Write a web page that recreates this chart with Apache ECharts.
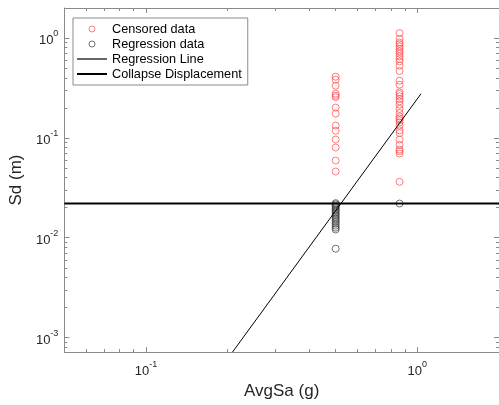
<!DOCTYPE html>
<html>
<head>
<meta charset="utf-8">
<script src="https://cdn.jsdelivr.net/npm/echarts@6/dist/echarts.min.js"></script>
<style>
html,body{margin:0;padding:0;background:#fff;}
#chart{width:499px;height:405px;}
</style>
</head>
<body>
<div id="chart"></div>
<script>
// ---- data ----
const xTicksMajor = [0.1, 1];
const xTicksMinor = [0.05, 0.06, 0.07, 0.08, 0.09, 0.2, 0.3, 0.4, 0.5, 0.6, 0.7, 0.8, 0.9, 2];
const yTicksMajor = [0.001, 0.01, 0.1, 1];
const yTicksMinor = [0.0008, 0.0009, 0.002, 0.003, 0.004, 0.005, 0.006, 0.007, 0.008, 0.009,
  0.02, 0.03, 0.04, 0.05, 0.06, 0.07, 0.08, 0.09, 0.2, 0.3, 0.4, 0.5, 0.6, 0.7, 0.8, 0.9, 2];

const avgSaLow = 0.5;
const avgSaHigh = 0.86;
const censoredSdLow = [0.410, 0.383, 0.333, 0.277, 0.265, 0.256, 0.201, 0.175, 0.133, 0.118, 0.0962, 0.080, 0.0593, 0.0460];
const censoredSdHigh = [1.122, 0.984, 0.904, 0.871, 0.824, 0.776, 0.735, 0.697, 0.655, 0.617, 0.583, 0.528, 0.468,
  0.374, 0.341, 0.286, 0.275, 0.261, 0.245, 0.232, 0.215, 0.195, 0.178, 0.164, 0.157, 0.150, 0.143, 0.133,
  0.119, 0.112, 0.096, 0.0851, 0.0764, 0.0735, 0.0697, 0.0363];
const regressionSdLow = [0.0222, 0.0216, 0.021, 0.0204, 0.0198, 0.0192, 0.0186, 0.018, 0.0174, 0.0168, 0.0162,
  0.0156, 0.015, 0.0144, 0.0138, 0.0132, 0.0126, 0.0121, 0.00776];
const regressionSdHigh = [0.022];
const regressionLineX = [0.2083, 1.032];
const regressionLineY = [0.000715, 0.277];
const collapseX = [0.05, 2];
const collapseY = [0.022, 0.022];

const xMin = 0.05, xMax = 2, yMin = 0.000715, yMax = 2;

// ---- build ----
const pairs = (xs, ys) => ys.map((y, i) => [Array.isArray(xs) ? xs[i] : xs, y]);
const censored = pairs(avgSaLow, censoredSdLow).concat(pairs(avgSaHigh, censoredSdHigh));
const regression = pairs(avgSaLow, regressionSdLow).concat(pairs(avgSaHigh, regressionSdHigh));

const FONT = 'Liberation Sans';
const axisColor = '#8a8a8a';
const labelColor = '#262626';
const supFmt = v => { const e = Math.round(Math.log10(v)); return '{b|10}{s|' + e + '}'; };
const rich = {
  b: { fontSize: 13, fontFamily: FONT, color: labelColor, lineHeight: 18, verticalAlign: 'bottom' },
  s: { fontSize: 9, fontFamily: FONT, color: labelColor, lineHeight: 18, verticalAlign: 'top' }
};

function mkX(pos, major, showLabel, showLine, name) {
  return {
    type: 'log', logBase: 10, min: xMin, max: xMax, position: pos, gridIndex: 0,
    name: name || '', nameLocation: 'middle', nameGap: 29,
    nameTextStyle: { fontSize: 17, fontFamily: FONT, color: labelColor },
    axisLine: { show: showLine, onZero: false, lineStyle: { color: axisColor, width: 1 } },
    axisTick: { show: true, inside: true, length: major ? 5 : 3, customValues: major ? xTicksMajor : xTicksMinor,
      lineStyle: { color: axisColor, width: 1 } },
    axisLabel: { show: showLabel, customValues: xTicksMajor, formatter: supFmt, rich: rich, margin: 8 },
    splitLine: { show: false }, minorTick: { show: false }
  };
}
function mkY(pos, major, showLabel, showLine, name) {
  return {
    type: 'log', logBase: 10, min: yMin, max: yMax, position: pos, gridIndex: 0,
    name: name || '', nameLocation: 'middle', nameGap: 30,
    nameTextStyle: { fontSize: 17, fontFamily: FONT, color: labelColor },
    axisLine: { show: showLine, onZero: false, lineStyle: { color: axisColor, width: 1 } },
    axisTick: { show: true, inside: true, length: major ? 5 : 3, customValues: major ? yTicksMajor : yTicksMinor,
      lineStyle: { color: axisColor, width: 1 } },
    axisLabel: { show: showLabel, customValues: yTicksMajor, formatter: supFmt, rich: rich, margin: 6 },
    splitLine: { show: false }, minorTick: { show: false }
  };
}

const chart = echarts.init(document.getElementById('chart'), null, { renderer: 'canvas' });
chart.setOption({
  animation: false,
  backgroundColor: '#fff',
  textStyle: { fontFamily: FONT },
  grid: { left: 63, top: 8, right: -2, bottom: 52, containLabel: false },
  xAxis: [
    mkX('bottom', true, true, true, 'AvgSa (g)'),
    mkX('bottom', false, false, false),
    mkX('top', true, false, true),
    mkX('top', false, false, false)
  ],
  yAxis: [
    mkY('left', true, true, true, 'Sd (m)'),
    mkY('left', false, false, false),
    mkY('right', true, false, true),
    mkY('right', false, false, false)
  ],
  legend: {
    orient: 'vertical', left: 73, top: 18,
    itemWidth: 30, itemHeight: 6, itemGap: 1,
    padding: [4, 6, 4, 4],
    borderColor: '#8a8a8a', borderWidth: 1, backgroundColor: '#fff',
    itemStyle: { borderWidth: 1 },
    textStyle: { fontSize: 12.7, fontFamily: FONT, color: '#000', lineHeight: 14 },
    data: [
      { name: 'Censored data', icon: 'circle', itemStyle: { color: 'rgba(0,0,0,0)', borderColor: '#ff4d4d', borderWidth: 0.9 } },
      { name: 'Regression data', icon: 'circle', itemStyle: { color: 'rgba(0,0,0,0)', borderColor: '#3a3a3a', borderWidth: 0.9 } },
      { name: 'Regression Line', icon: 'path://M0,0 L30,0 L30,1.2 L0,1.2 Z', itemStyle: { color: '#000', borderWidth: 0 } },
      { name: 'Collapse Displacement', icon: 'path://M0,0 L30,0 L30,2 L0,2 Z', itemStyle: { color: '#000', borderWidth: 0 } }
    ]
  },
  series: [
    { name: 'Censored data', type: 'scatter', symbol: 'circle', symbolSize: 7, data: censored,
      itemStyle: { color: 'rgba(0,0,0,0)', borderColor: '#ff4d4d', borderWidth: 0.9 } },
    { name: 'Regression data', type: 'scatter', symbol: 'circle', symbolSize: 7, data: regression,
      itemStyle: { color: 'rgba(0,0,0,0)', borderColor: '#3a3a3a', borderWidth: 0.9 } },
    { name: 'Regression Line', type: 'line', symbol: 'none', clip: true,
      data: pairs(regressionLineX, regressionLineY), lineStyle: { color: '#000', width: 1 }, itemStyle: { color: '#000' } },
    { name: 'Collapse Displacement', type: 'line', symbol: 'none', clip: true,
      data: pairs(collapseX, collapseY), lineStyle: { color: '#000', width: 2 }, itemStyle: { color: '#000' } }
  ]
});
</script>
</body>
</html>
